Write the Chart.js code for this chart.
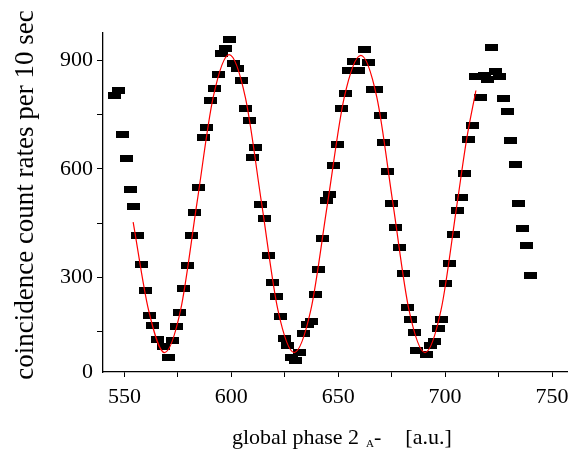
<!DOCTYPE html>
<html>
<head>
<meta charset="utf-8">
<script src="https://cdn.jsdelivr.net/npm/chart.js@4/dist/chart.umd.min.js"></script>
<style>
  html, body { margin: 0; padding: 0; background: #fff; }
  #wrap { width: 586px; height: 452px; }
</style>
</head>
<body>
<div id="wrap"><canvas id="phaseChart" width="586" height="452"></canvas></div>
<script>
// measured points (global phase, coincidences per 10 s)
const phaseValues = [545.3, 547.3, 548.9, 550.8, 552.7, 554.4, 556.2, 557.8, 559.7, 561.6,
    563.3, 565.3, 568.3, 570.6, 572.6, 574.2, 575.9, 577.7, 579.5, 581.3,
    583.0, 584.8, 586.9, 588.4, 590.3, 592.2, 593.9, 595.6, 597.2, 599.2,
    600.8, 603.0, 604.7, 606.7, 608.3, 611.1, 610.1, 613.6, 615.5, 617.2,
    619.2, 621.1, 623.0, 624.7, 626.5, 628.1, 630.2, 632.0, 633.6, 635.5,
    637.5, 639.2, 640.8, 642.7, 644.4, 646.1, 648.0, 649.8, 651.7, 653.5,
    655.0, 657.0, 659.4, 662.5, 664.4, 665.9, 668.0, 669.7, 671.4, 673.1,
    675.0, 676.9, 678.6, 680.5, 682.2, 683.9, 685.5, 686.7, 691.1, 693.0,
    694.8, 696.9, 698.5, 700.3, 702.0, 703.9, 705.8, 707.5, 709.2, 711.1,
    713.0, 714.2, 716.6, 718.3, 720.0, 721.9, 723.6, 725.5, 727.3, 729.2,
    730.8, 732.7, 734.5, 736.4, 738.0, 739.8];
const countValues = [802, 816, 694, 629, 544, 495, 416, 337, 264, 194,
    166, 127, 110, 79, 126, 165, 203, 269, 334, 415,
    479, 549, 686, 715, 789, 823, 860, 920, 933, 959,
    893, 879, 844, 766, 733, 658, 631, 501, 463, 362,
    287, 247, 192, 130, 111, 79, 71, 93, 146, 171,
    178, 254, 321, 407, 512, 528, 609, 667, 767, 810,
    872, 897, 872, 929, 895, 821, 821, 748, 674, 592,
    505, 437, 383, 311, 216, 185, 148, 99, 88, 111,
    123, 159, 184, 284, 339, 419, 484, 520, 588, 681,
    719, 856, 797, 858, 847, 937, 870, 856, 795, 759,
    679, 612, 505, 435, 387, 304];

// red fit curve
const fitPhase = [554.1, 561.3, 568.8, 576.3, 583.9, 591.5, 599.0, 606.6, 614.2, 621.8,
    629.4, 637.2, 645.0, 652.8, 660.6, 668.1, 675.6, 683.1, 690.6, 698.1,
    705.6, 710.0, 714.4];
const fitCounts = [453, 210, 92, 210, 504, 797, 916, 797, 504, 210,
    92, 210, 504, 797, 914, 797, 504, 210, 92, 210,
    504, 680, 817];

// axes
const xMin = 540, xMax = 757;
const yMin = 38.5, yMax = 976;   // reference prints "0" at the bottom of the axis
const xTicks = [550, 575, 600, 625, 650, 675, 700, 725, 750];
const yTicks = [yMin, 150, 300, 450, 600, 750, 900];

const serif = "'Liberation Serif', 'Times New Roman', serif";

// rectangular black marker
function makeMarker(w, h) {
    const c = document.createElement('canvas');
    c.width = w;
    c.height = h;
    const g = c.getContext('2d');
    g.fillStyle = '#000';
    g.fillRect(0, 0, w, h);
    return c;
}
const marker = makeMarker(13, 7);

const points = phaseValues.map((x, i) => ({ x: x, y: countValues[i] }));
const fitPoints = fitPhase.map((x, i) => ({ x: x, y: fitCounts[i] }));

// axis titles (x title has a subscript A)
const titlesPlugin = {
    id: 'axisTitles',
    afterDraw(chart) {
        const ctx = chart.ctx;
        ctx.save();
        ctx.fillStyle = '#000';

        // y title, rotated
        ctx.save();
        ctx.translate(26, 195);
        ctx.rotate(-Math.PI / 2);
        ctx.font = '27px ' + serif;
        ctx.textAlign = 'center';
        ctx.textBaseline = 'middle';
        ctx.fillText('coincidence count rates per 10 sec', 0, 0);
        ctx.restore();

        // x title
        ctx.textBaseline = 'alphabetic';
        ctx.font = '22px ' + serif;
        let x = 232;
        const base = 444;
        ctx.fillText('global phase 2', x, base);
        x += ctx.measureText('global phase 2').width + 7;
        ctx.font = '11px ' + serif;
        ctx.fillText('A', x, base + 3);
        x += ctx.measureText('A').width;
        ctx.font = '22px ' + serif;
        ctx.fillText('-', x, base);
        x += ctx.measureText('-').width + 24;
        ctx.fillText('[a.u.]', x, base);
        ctx.restore();
    }
};

const config = {
    type: 'scatter',
    data: {
        datasets: [
            {
                label: 'fit',
                data: fitPoints,
                showLine: true,
                borderColor: '#ff0000',
                borderWidth: 1.2,
                pointRadius: 0,
                cubicInterpolationMode: 'monotone',
                order: 0
            },
            {
                label: 'counts',
                data: points,
                pointStyle: marker,
                pointRadius: 6,
                order: 1
            }
        ]
    },
    options: {
        responsive: false,
        animation: false,
        layout: { padding: { top: 33, right: 19, left: 0, bottom: 0 } },
        plugins: {
            legend: { display: false },
            tooltip: { enabled: false }
        },
        scales: {
            x: {
                type: 'linear',
                min: xMin,
                max: xMax,
                afterFit: (scale) => { scale.height = 80; },
                afterBuildTicks: (scale) => { scale.ticks = xTicks.map(v => ({ value: v })); },
                grid: { drawOnChartArea: false, color: '#000', tickLength: 5, tickWidth: 1 },
                border: { color: '#000', width: 1.3 },
                ticks: {
                    color: '#000',
                    font: { family: serif, size: 22 },
                    padding: 7,
                    maxRotation: 0,
                    autoSkip: false,
                    callback: (v) => (v % 50 === 0 ? String(v) : '')
                }
            },
            y: {
                type: 'linear',
                min: yMin,
                max: yMax,
                afterFit: (scale) => { scale.width = 103; },
                afterBuildTicks: (scale) => { scale.ticks = yTicks.map(v => ({ value: v })); },
                grid: {
                    drawOnChartArea: false,
                    color: (c) => (c.tick && c.tick.value === yMin ? 'rgba(0,0,0,0)' : '#000'),
                    tickLength: 6,
                    tickWidth: 1
                },
                border: { color: '#000', width: 1.3 },
                ticks: {
                    color: '#000',
                    font: { family: serif, size: 22 },
                    padding: 4,
                    autoSkip: false,
                    callback: (v) => (v === yMin ? '0' : (v % 300 === 0 ? String(v) : ''))
                }
            }
        }
    },
    plugins: [titlesPlugin]
};

new Chart(document.querySelector('#phaseChart'), config);
</script>
</body>
</html>
